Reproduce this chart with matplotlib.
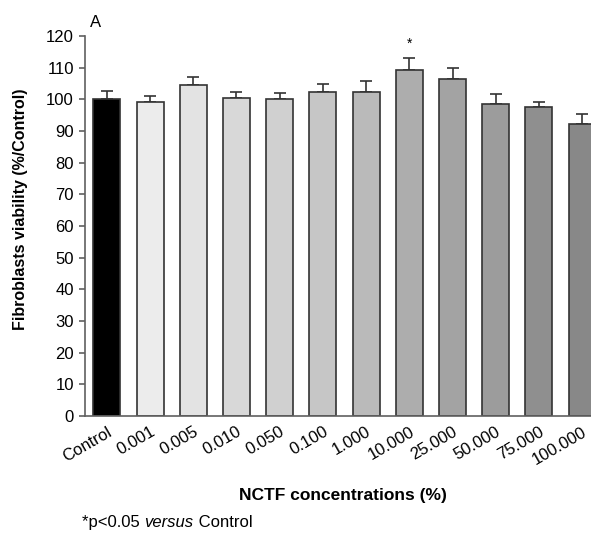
import numpy as np
import matplotlib
matplotlib.use("Agg")
import matplotlib.pyplot as plt

plt.rcParams['font.family'] = ['Liberation Sans', 'DejaVu Sans']

labels = ["Control", "0.001", "0.005", "0.010", "0.050", "0.100", "1.000",
          "10.000", "25.000", "50.000", "75.000", "100.000"]
viability = [100.0, 99.2, 104.5, 100.3, 100.0, 102.2, 102.4, 109.2, 106.3, 98.4, 97.6, 92.3]
sem = [2.6, 1.8, 2.6, 1.9, 2.1, 2.6, 3.3, 3.8, 3.6, 3.3, 1.6, 3.1]
shades = ["#000000", "#ececec", "#e3e3e3", "#d8d8d8", "#d0d0d0", "#c6c6c6",
          "#bababa", "#adadad", "#a3a3a3", "#9c9c9c", "#8f8f8f", "#888888"]
signif = [7]

fig = plt.figure(figsize=(5.91, 5.33), dpi=100)
ax = fig.add_axes([0.1438, 0.2195, 0.8562, 0.713])

x = np.arange(len(labels))
edge = "#333333"
ax.bar(x, viability, width=0.625, color=shades, edgecolor=edge, linewidth=1.2, zorder=2)
ax.errorbar(x, viability, yerr=[np.zeros(len(sem)), sem], fmt="none",
            ecolor=edge, elinewidth=1.2, capsize=4, capthick=1.2, zorder=1)
for i in signif:
    ax.text(x[i], viability[i] + sem[i] + 4.6, "*", ha="center", va="center", fontsize=10)

ax.set_xlim(-0.505, 11.204)
ax.set_ylim(0, 120)
ax.set_yticks(np.arange(0, 121, 10))
ax.set_xticks(x)
ax.set_xticklabels(labels, rotation=30, ha="right", va="top", rotation_mode="anchor", fontsize=12)
ax.tick_params(axis="x", length=0, pad=6)
ax.tick_params(axis="y", labelsize=12, length=4, color="#606060", width=1.2, pad=4)
for s in ["top", "right"]:
    ax.spines[s].set_visible(False)
for s in ["left", "bottom"]:
    ax.spines[s].set_color("#606060")
    ax.spines[s].set_linewidth(1.2)

fig.text(0.0355, 0.608, "Fibroblasts viability (%/Control)", rotation=90,
         ha="center", va="center", fontsize=11.5, fontweight="bold")
fig.text(0.580, 0.071, "NCTF concentrations (%)", ha="center", va="center",
         fontsize=12.5, fontweight="bold")
fig.text(0.152, 0.958, "A", fontsize=12, va="center")

# footnote with italic word, pieces placed side by side
renderer = fig.canvas.get_renderer()
xpos = 82 / 591
for piece, st in [("*p<0.05 ", "normal"), ("versus", "italic"), (" Control", "normal")]:
    t = fig.text(xpos, 0.019, piece, fontsize=12, va="center", style=st)
    bb = t.get_window_extent(renderer)
    xpos += bb.width / fig.bbox.width

fig.savefig("out.png", dpi=100)
